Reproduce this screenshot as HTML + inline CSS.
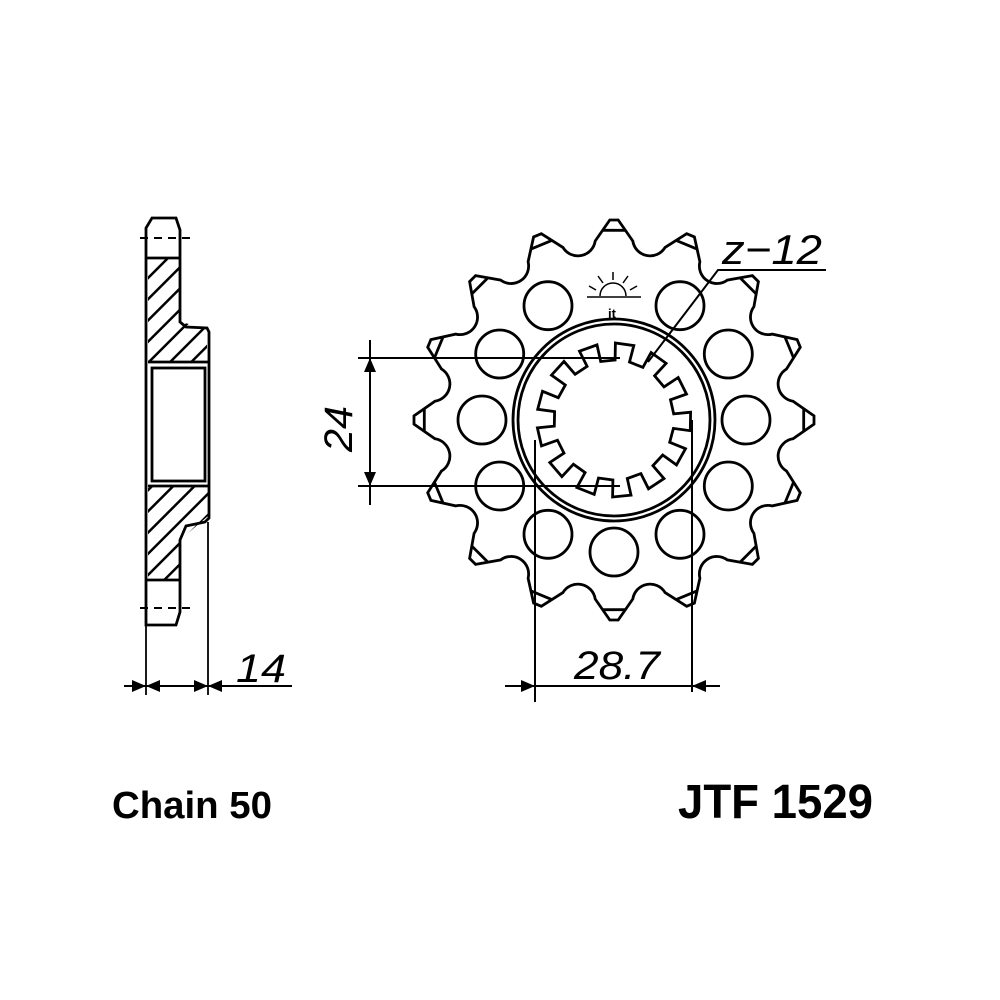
<!DOCTYPE html>
<html><head><meta charset="utf-8"><style>
html,body{margin:0;padding:0;background:#fff;}
svg{display:block}
text{font-family:"Liberation Sans",sans-serif;}
</style></head><body>
<svg id="s" width="1000" height="1000" viewBox="0 0 1000 1000" xmlns="http://www.w3.org/2000/svg">
<defs>
<pattern id="h" patternUnits="userSpaceOnUse" width="15" height="15" patternTransform="rotate(45)">
<rect width="15" height="15" fill="#fff"/><line x1="0" y1="0" x2="0" y2="15" stroke="#000" stroke-width="5"/>
</pattern>
</defs>
<g fill="none" stroke="#000" stroke-width="2.8">
<rect x="148" y="258" width="32" height="104" fill="url(#h)" stroke="none"/>
<polygon points="180,322 207,328 207,362 180,362" fill="url(#h)" stroke="none"/>
<rect x="148" y="486" width="60" height="30" fill="url(#h)" stroke="none"/>
<polygon points="148,516 208,516 180,540 180,580 148,580" fill="url(#h)" stroke="none"/>
<path d="M146,625 L146,228 L152,218 L176,218 L180,230 L180,322 L186,327 L207,328 L209,332 L209,518 L205,522 L186,526 L180,540 L180,612 L176,625 L152,625 Z"/>
<line x1="146" y1="258" x2="180" y2="258"/>
<line x1="146" y1="580" x2="180" y2="580"/>
<rect x="152" y="368" width="53" height="113"/>
<line x1="148" y1="362" x2="208" y2="362"/>
<line x1="148" y1="486" x2="208" y2="486"/>
<line x1="140" y1="238" x2="195" y2="238" stroke-dasharray="8,6" stroke-width="2"/>
<line x1="140" y1="608" x2="190" y2="608" stroke-dasharray="8,6" stroke-width="2"/>
<line x1="146" y1="625" x2="146" y2="695" stroke-width="1.8"/>
<line x1="208" y1="522" x2="208" y2="695" stroke-width="1.8"/>
<line x1="124" y1="686" x2="292" y2="686" stroke-width="2"/>
<g id="sp"></g>
<circle cx="614" cy="420" r="101"/>
<circle cx="614" cy="420" r="96"/>
<line x1="358" y1="358" x2="620" y2="358" stroke-width="2"/>
<line x1="358" y1="486" x2="620" y2="486" stroke-width="2"/>
<line x1="370" y1="340" x2="370" y2="505" stroke-width="2"/>
<line x1="535" y1="440" x2="535" y2="702" stroke-width="2"/>
<line x1="692" y1="420" x2="692" y2="692" stroke-width="2"/>
<line x1="505" y1="686" x2="720" y2="686" stroke-width="2"/>
<polyline points="648,362 718,270 826,270" stroke-width="2"/>
</g>
<g fill="#000">
<polygon points="146,686 132,680 132,692"/><polygon points="146,686 160,680 160,692"/>
<polygon points="208,686 194,680 194,692"/><polygon points="208,686 222,680 222,692"/>
<polygon points="370,358 364,372 376,372"/><polygon points="370,486 364,472 376,472"/>
<polygon points="535,686 521,680 521,692"/><polygon points="692,686 706,680 706,692"/>
</g>
<text x="236" y="682" font-size="40" font-style="italic" textLength="50" lengthAdjust="spacingAndGlyphs">14</text>
<text x="574" y="679" font-size="40" font-style="italic" textLength="86" lengthAdjust="spacingAndGlyphs">28.7</text>
<text x="722" y="264" font-size="42" font-style="italic" textLength="100" lengthAdjust="spacingAndGlyphs">z−12</text>
<text transform="translate(352,452) rotate(-90)" font-size="40" font-style="italic" textLength="46" lengthAdjust="spacingAndGlyphs">24</text>
<text x="612" y="318" font-size="13" text-anchor="middle" font-weight="bold">jt</text>
<g stroke="#000" stroke-width="1.5" fill="none">
<path d="M600,296 A13,13 0 0 1 626,296"/><line x1="587" y1="297" x2="641" y2="297"/>
<line x1="613" y1="280" x2="613" y2="272"/><line x1="603" y1="283" x2="598" y2="276"/><line x1="623" y1="283" x2="628" y2="276"/>
<line x1="596" y1="290" x2="589" y2="286"/><line x1="630" y1="290" x2="637" y2="286"/>
</g>
<text x="112" y="818" font-size="38" font-weight="bold" textLength="160" lengthAdjust="spacingAndGlyphs">Chain 50</text>
<text x="678" y="818" font-size="48" font-weight="bold" textLength="195" lengthAdjust="spacingAndGlyphs">JTF 1529</text>
</svg>
<script>
(function(){
var cx=614,cy=420,g=document.getElementById('sp'),ns='http://www.w3.org/2000/svg';
function P(r,a){a=a*Math.PI/180;return [(cx+r*Math.sin(a)).toFixed(1),(cy-r*Math.cos(a)).toFixed(1)];}
var d='',N=16,st=360/N;
for(var i=0;i<N;i++){
 var a=i*st;
 var t1=P(200,a-1.2),t2=P(200,a+1.2),f1=P(180,a+6),f2=P(180,a+st-6);
 if(i==0){d+='M'+t1.join(',');}
 d+=' L'+t2.join(',')+' L'+f1.join(',')+' A17.5,17.5 0 0 0 '+f2.join(',')+' L'+P(200,a+st-1.2).join(',');
}
d+='Z';
function add(tag,at){var e=document.createElementNS(ns,tag);for(var k in at)e.setAttribute(k,at[k]);g.appendChild(e);}
add('path',{d:d});
for(var i=0;i<N;i++){var a=i*st,p1=P(190,a-3.3),p2=P(190,a+3.3);add('line',{x1:p1[0],y1:p1[1],x2:p2[0],y2:p2[1]});}
for(var k=0;k<12;k++){if(k==0)continue;var p=P(132,k*30);add('circle',{cx:p[0],cy:p[1],r:24});}
var M=13,ss=360/M,sd='';
for(var k=0;k<M;k++){var a=k*ss+8;
 var q=[P(60,a-ss/4),P(77,a-ss/4),P(77,a+ss/4),P(60,a+ss/4)];
 sd+=(k==0?'M':' L')+q[0].join(',')+' L'+q[1].join(',')+' L'+q[2].join(',')+' L'+q[3].join(',');}
sd+='Z';add('path',{d:sd});
})();
</script>
</body></html>
